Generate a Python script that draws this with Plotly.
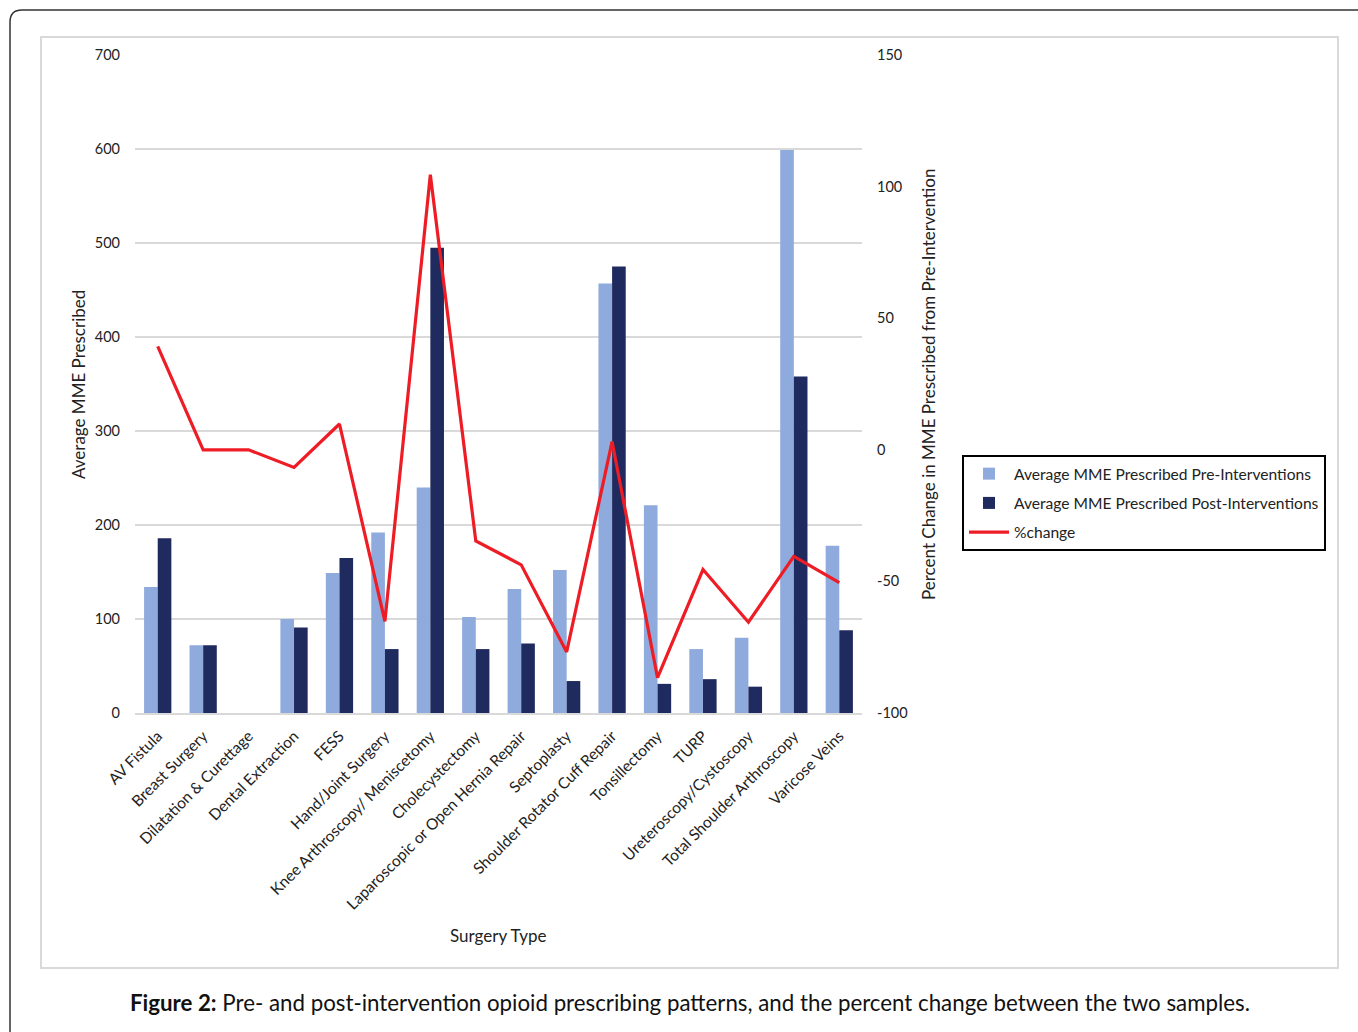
import plotly.graph_objects as go

categories = [
    "AV Fistula", "Breast Surgery", "Dilatation & Curettage", "Dental Extraction",
    "FESS", "Hand/Joint Surgery", "Knee Arthroscopy/ Meniscetomy", "Cholecystectomy",
    "Laparoscopic or Open Hernia Repair", "Septoplasty", "Shoulder Rotator Cuff Repair",
    "Tonsillectomy", "TURP", "Ureteroscopy/Cystoscopy", "Total Shoulder Arthroscopy",
    "Varicose Veins",
]
pre_values = [134, 72, 0, 100, 149, 192, 240, 102, 132, 152, 457, 221, 68, 80, 599, 178]
post_values = [186, 72, 0, 91, 165, 68, 495, 68, 74, 34, 475, 31, 36, 28, 358, 88]
pct_change = [39.3, 0, 0, -6.7, 9.8, -65.2, 104.5, -34.6, -43.7, -76.8, 3.1, -86.6,
              -45.5, -65.5, -40.5, -50.5]
left_ticks = [0, 100, 200, 300, 400, 500, 600, 700]
right_ticks = [-100, -50, 0, 50, 100, 150]
right_tick_labels = ["-100", "-50", "0", "50", "100", "150"]

W, H = 1358, 1032
L, R, T, B = 135, 862, 55, 713
FONT = "Lato, 'Open Sans', sans-serif"


def px(X):
    return (X - L) / (R - L)


def py(Y):
    return (B - Y) / (B - T)


fig = go.Figure()
fig.add_trace(go.Bar(x=categories, y=pre_values, name="Average MME Prescribed Pre-Interventions",
                     legendgroup="a", marker=dict(color="#8FAADC", line=dict(width=0))))
fig.add_trace(go.Bar(x=categories, y=post_values, name="Average MME Prescribed Post-Interventions",
                     legendgroup="b", marker=dict(color="#1F2A5E", line=dict(width=0))))
fig.add_trace(go.Scatter(x=categories, y=pct_change, name="%change", yaxis="y2", mode="lines",
                         legendgroup="c", line=dict(color="#EE1C25", width=3.2)))

shapes = [
    dict(type="rect", xref="paper", yref="paper", x0=px(41), x1=px(1338), y0=py(968), y1=py(37),
         line=dict(color="#D9D9D9", width=2), layer="below"),
    dict(type="path", xref="paper", yref="paper",
         path=(f"M {px(10)} {py(1040)} L {px(10)} {py(22)} "
               f"Q {px(10)} {py(10)} {px(22)} {py(10)} L {px(1370)} {py(10)}"),
         line=dict(color="#333333", width=1.5)),
]

annotations = [
    dict(text="Average MME Prescribed", xref="paper", yref="paper", x=px(78), y=py(385),
         xanchor="center", yanchor="middle", textangle=-90, showarrow=False,
         font=dict(family=FONT, size=17, color="#222")),
    dict(text="Percent Change in MME Prescribed from Pre-Intervention", xref="paper", yref="paper",
         x=px(928), y=py(385), xanchor="center", yanchor="middle", textangle=-90, showarrow=False,
         font=dict(family=FONT, size=17, color="#222")),
    dict(text="Surgery Type", xref="paper", yref="paper", x=px(498), y=py(935),
         xanchor="center", yanchor="middle", showarrow=False,
         font=dict(family=FONT, size=17, color="#222")),
    dict(text="<b>Figure 2:</b> Pre- and post-intervention opioid prescribing patterns, and the percent change between the two samples.",
         xref="paper", yref="paper", x=px(690), y=py(1002), xanchor="center", yanchor="middle",
         showarrow=False, font=dict(family=FONT, size=22.3, color="#111")),
]

fig.update_layout(
    width=W, height=H,
    margin=dict(l=L, r=W - R, t=T, b=H - B, pad=0),
    paper_bgcolor="white", plot_bgcolor="white",
    barmode="group", bargap=0.4, bargroupgap=0,
    font=dict(family=FONT, size=14, color="#222"),
    xaxis=dict(type="category", tickangle=-45, showline=True, linecolor="#D9D9D9", linewidth=2,
               showgrid=False, ticks="", tickfont=dict(size=15.5, color="#222"),
               ticklabelstandoff=6),
    yaxis=dict(range=[0, 700], tickvals=left_ticks, showgrid=True, gridcolor="#D9D9D9",
               gridwidth=1.5, zeroline=False, showline=False, ticks="",
               tickfont=dict(size=14.5, color="#222"), ticklabelstandoff=14),
    yaxis2=dict(range=[-100, 150], tickvals=right_ticks, ticktext=right_tick_labels,
                overlaying="y", side="right",
                showgrid=False, zeroline=False, showline=False, ticks="",
                tickfont=dict(size=14.5, color="#222"), ticklabelstandoff=14),
    legend=dict(x=px(962), y=py(455), xanchor="left", yanchor="top", xref="paper", yref="paper",
                bordercolor="#000", borderwidth=2, bgcolor="white",
                font=dict(family=FONT, size=15.6, color="#222"), itemwidth=40,
                tracegroupgap=6),
    shapes=shapes, annotations=annotations,
)

fig.write_html("out.html", config={"displayModeBar": False},
               post_script="document.body.style.margin='0';document.body.style.overflow='hidden';")
